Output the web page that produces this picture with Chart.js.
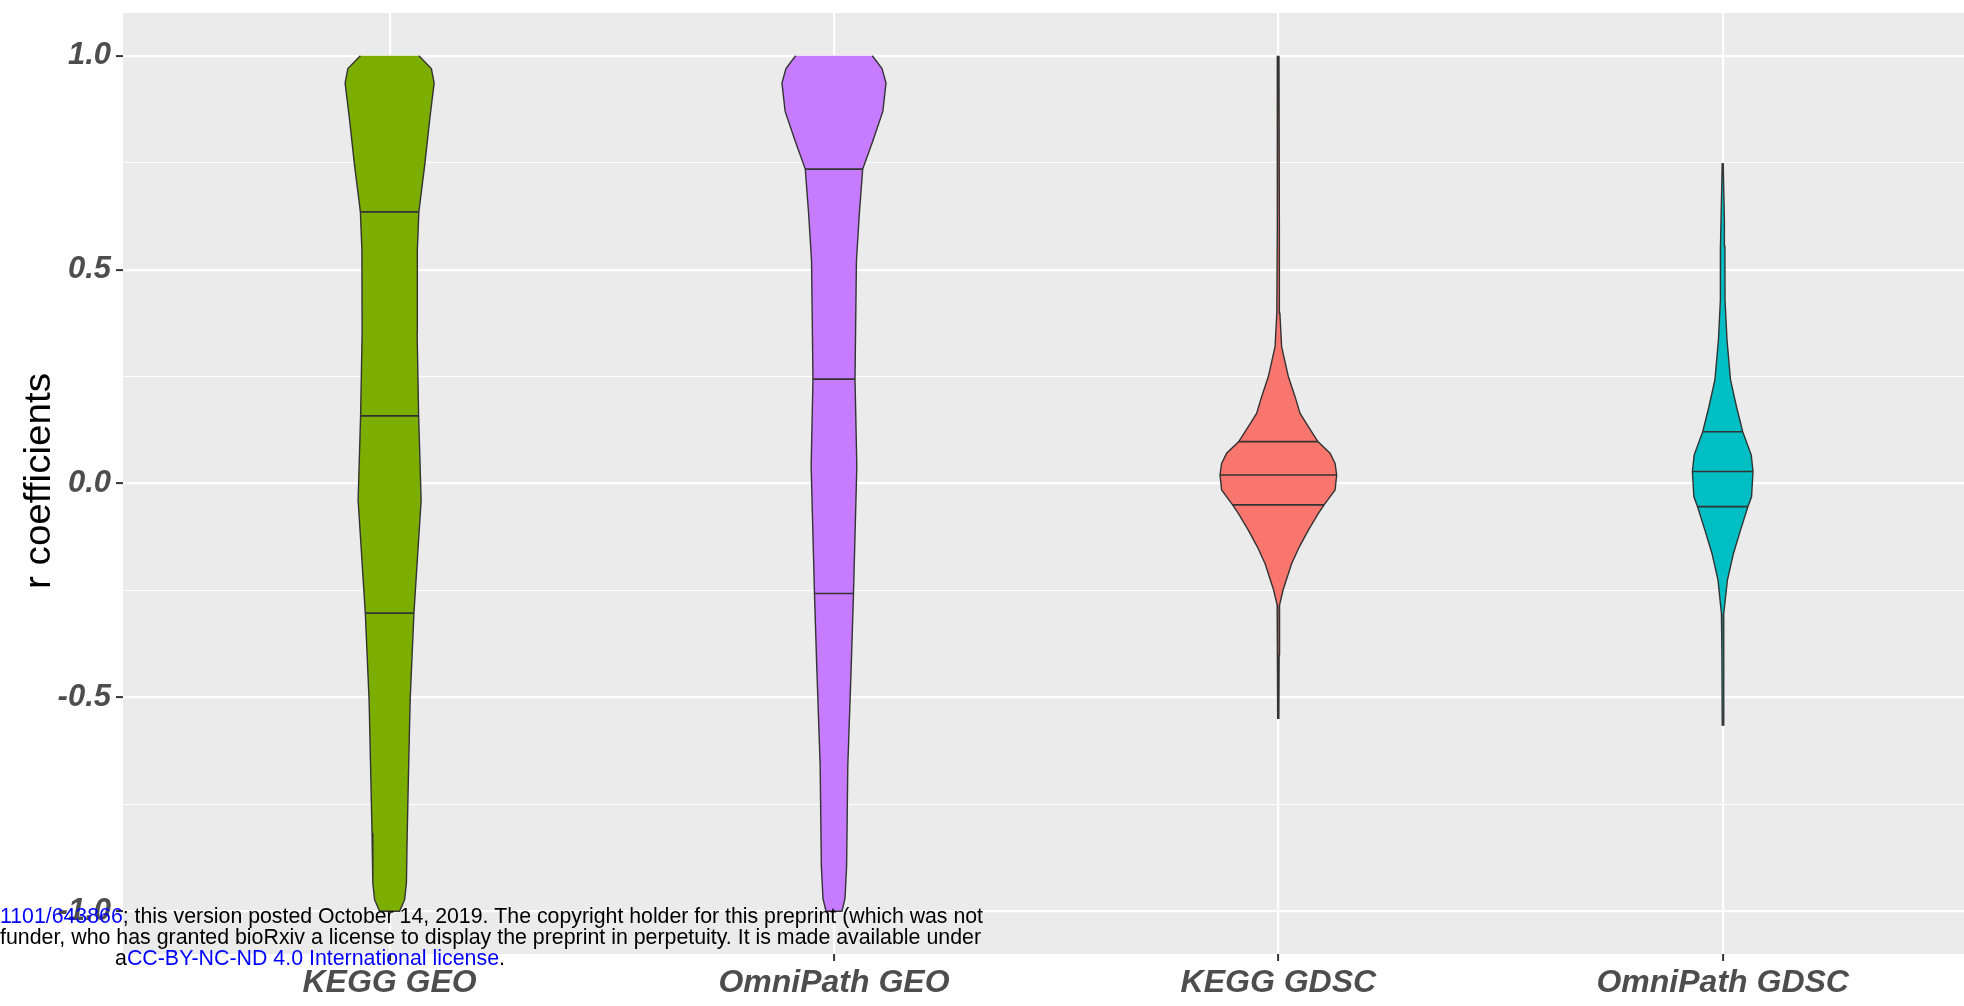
<!DOCTYPE html>
<html>
<head>
<meta charset="utf-8">
<script src="https://cdn.jsdelivr.net/npm/chart.js@4.4.1/dist/chart.umd.min.js"></script>
<style>
  html, body { margin: 0; padding: 0; background: #fff; }
  #wrap { width: 1964px; height: 1006px; }
</style>
</head>
<body>
<div id="wrap"><canvas id="violinChart" width="1964" height="1006"></canvas></div>
<script>
// categories on the x axis
const categories = ['KEGG GEO', 'OmniPath GEO', 'KEGG GDSC', 'OmniPath GDSC'];
const fillColors = ['#7CAE00', '#C77CFF', '#F8766D', '#00BFC4'];

// y axis ticks (major ones get a label, minor ones only a grid line)
const yMajorTicks = [-1.0, -0.5, 0.0, 0.5, 1.0];
const yMinorTicks = [-0.75, -0.25, 0.25, 0.75];

// violin outlines: r value, half width in category units
const keggGeoY = [1.0, 0.970, 0.936, 0.850, 0.749, 0.635, 0.546, 0.352, 0.158, -0.039, -0.303, -0.506, -0.663, -0.817, -0.934, -0.973, -1.0];
const keggGeoW = [0.0658, 0.0939, 0.1002, 0.0901, 0.0795, 0.0658, 0.0624, 0.0619, 0.0653, 0.0709, 0.0547, 0.0462, 0.0428, 0.0396, 0.0378, 0.0338, 0.0225];

const omniGeoY = [1.0, 0.970, 0.936, 0.870, 0.800, 0.735, 0.630, 0.520, 0.244, 0.040, -0.257, -0.430, -0.660, -0.895, -0.970, -1.0];
const omniGeoW = [0.0863, 0.1081, 0.1171, 0.1099, 0.0872, 0.0646, 0.0570, 0.0505, 0.0473, 0.0514, 0.0439, 0.0387, 0.0311, 0.0284, 0.0248, 0.0180];

const keggGdscY = [1.0, 0.600, 0.398, 0.320, 0.250, 0.203, 0.164, 0.133, 0.098, 0.071, 0.047, 0.020, -0.015, -0.050, -0.070, -0.109, -0.148, -0.187, -0.249, -0.284, -0.400, -0.549];
const keggGdscW = [0.0014, 0.0023, 0.0034, 0.0074, 0.0225, 0.0376, 0.0489, 0.0676, 0.0890, 0.1164, 0.1277, 0.1313, 0.1277, 0.1029, 0.0901, 0.0676, 0.0473, 0.0300, 0.0106, 0.0027, 0.0018, 0.0011];

const omniGdscY = [0.749, 0.616, 0.554, 0.429, 0.335, 0.242, 0.180, 0.121, 0.067, 0.028, -0.031, -0.054, -0.109, -0.163, -0.226, -0.304, -0.400, -0.565];
const omniGdscW = [0.0011, 0.0038, 0.0050, 0.0052, 0.0097, 0.0176, 0.0309, 0.0450, 0.0642, 0.0682, 0.0649, 0.0568, 0.0401, 0.0243, 0.0106, 0.0029, 0.0018, 0.0011];

// quartiles drawn inside each violin (25%, 50%, 75%)
const keggGeoQ = [-0.303, 0.158, 0.635];
const omniGeoQ = [-0.257, 0.244, 0.735];
const keggGdscQ = [-0.050, 0.020, 0.098];
const omniGdscQ = [-0.054, 0.028, 0.121];

const yTitle = 'r coefficients';

// bioRxiv footer that sits over the figure
const footerLines = [
  [['1101/643866', '#0000ff'], ['; this version posted October 14, 2019. The copyright holder for this preprint (which was not', '#000000']],
  [['funder, who has granted bioRxiv a license to display the preprint in perpetuity. It is made available under', '#000000']],
  [['a', '#000000'], ['CC-BY-NC-ND 4.0 International license', '#0000ff'], ['.', '#000000']]
];

const violins = [
  { y: keggGeoY, w: keggGeoW, q: keggGeoQ },
  { y: omniGeoY, w: omniGeoW, q: omniGeoQ },
  { y: keggGdscY, w: keggGdscW, q: keggGdscQ },
  { y: omniGdscY, w: omniGdscW, q: omniGdscQ }
];

const FONT = '"Liberation Sans", Arial, sans-serif';
const isMajor = v => Math.abs(v * 2 - Math.round(v * 2)) < 1e-6;

// half width of a violin at a given r value (where a quartile line meets the outline)
function widthAt(ys, ws, v) {
  for (let i = 0; i < ys.length - 1; i++) {
    if (v <= ys[i] && v >= ys[i + 1]) {
      const t = (ys[i] - v) / (ys[i] - ys[i + 1]);
      return ws[i] + t * (ws[i + 1] - ws[i]);
    }
  }
  return 0;
}

const datasets = [];
violins.forEach((vl, i) => {
  const c = i + 1;
  const left = vl.y.map((y, k) => ({ x: c - vl.w[k], y }));
  const right = vl.y.map((y, k) => ({ x: c + vl.w[k], y })).reverse();
  datasets.push({
    data: left.concat(right),
    backgroundColor: fillColors[i],
    borderColor: '#333333',
    borderWidth: 1.4,
    fill: 'shape',
    pointRadius: 0,
    tension: 0,
    order: 2
  });
  vl.q.forEach(q => {
    const hw = widthAt(vl.y, vl.w, q);
    datasets.push({
      data: [{ x: c - hw, y: q }, { x: c + hw, y: q }],
      borderColor: '#333333',
      borderWidth: 1.6,
      fill: false,
      pointRadius: 0,
      order: 1
    });
  });
});

const panelBg = {
  id: 'panelBg',
  beforeDraw(chart) {
    const { ctx, chartArea: a } = chart;
    ctx.save();
    ctx.fillStyle = '#EBEBEB';
    ctx.fillRect(a.left, a.top, a.right - a.left, a.bottom - a.top);
    ctx.restore();
  }
};

const overlayText = {
  id: 'overlayText',
  afterDraw(chart) {
    const ctx = chart.ctx;
    // y axis title, rotated
    ctx.save();
    ctx.font = '36px ' + FONT;
    ctx.fillStyle = '#000000';
    const tw = ctx.measureText(yTitle).width;
    ctx.translate(50, 481);
    ctx.rotate(-Math.PI / 2);
    ctx.scale(216 / tw, 1);
    ctx.textAlign = 'center';
    ctx.textBaseline = 'alphabetic';
    ctx.fillText(yTitle, 0, 0);
    ctx.restore();

    // footer lines: [x start, x end, baseline]
    const spots = [[0, 983, 923], [0, 981, 944], [115, 505, 965]];
    ctx.save();
    ctx.font = '22px ' + FONT;
    ctx.textBaseline = 'alphabetic';
    ctx.textAlign = 'left';
    footerLines.forEach((parts, li) => {
      const [x0, x1, base] = spots[li];
      const total = parts.reduce((s, p) => s + ctx.measureText(p[0]).width, 0);
      ctx.save();
      ctx.translate(x0, base);
      ctx.scale((x1 - x0) / total, 1);
      let x = 0;
      parts.forEach(([txt, col]) => {
        ctx.fillStyle = col;
        ctx.fillText(txt, x, 0);
        x += ctx.measureText(txt).width;
      });
      ctx.restore();
    });
    ctx.restore();
  }
};

const ctx = document.getElementById('violinChart').getContext('2d');

new Chart(ctx, {
  type: 'line',
  data: { datasets },
  options: {
    responsive: false,
    devicePixelRatio: 1,
    animation: false,
    events: [],
    layout: { padding: { top: 13, right: 0, bottom: 0, left: 0 } },
    plugins: {
      legend: { display: false },
      tooltip: { enabled: false }
    },
    scales: {
      x: {
        type: 'linear',
        min: 0.4,
        max: 4.543,
        afterBuildTicks: s => { s.ticks = categories.map((_, i) => ({ value: i + 1 })); },
        afterFit: s => { s.height = 52; s.paddingLeft = 0; s.paddingRight = 0; },
        ticks: {
          autoSkip: false,
          maxRotation: 0,
          padding: 3,
          color: '#4D4D4D',
          font: { family: FONT, size: 32, weight: 'bold', style: 'italic' },
          callback: v => categories[Math.round(v) - 1] || ''
        },
        grid: { color: '#ffffff', lineWidth: 2.2, tickColor: '#333333', tickLength: 7, tickWidth: 2 },
        border: { display: false }
      },
      y: {
        type: 'linear',
        min: -1.1,
        max: 1.1,
        afterBuildTicks: s => {
          s.ticks = yMajorTicks.concat(yMinorTicks).sort((a, b) => a - b).map(v => ({ value: v }));
        },
        afterFit: s => { s.width = 123; s.paddingTop = 0; s.paddingBottom = 0; },
        ticks: {
          autoSkip: false,
          padding: 5,
          color: '#4D4D4D',
          font: { family: FONT, size: 31, weight: 'bold', style: 'italic' },
          callback: v => isMajor(v) ? v.toFixed(1) : ''
        },
        grid: {
          color: '#ffffff',
          lineWidth: c => (c.tick && isMajor(c.tick.value)) ? 2.2 : 1.1,
          tickColor: c => (c.tick && isMajor(c.tick.value)) ? '#333333' : 'rgba(0,0,0,0)',
          tickLength: 7,
          tickWidth: 2
        },
        border: { display: false }
      }
    }
  },
  plugins: [panelBg, overlayText]
});
</script>
</body>
</html>
